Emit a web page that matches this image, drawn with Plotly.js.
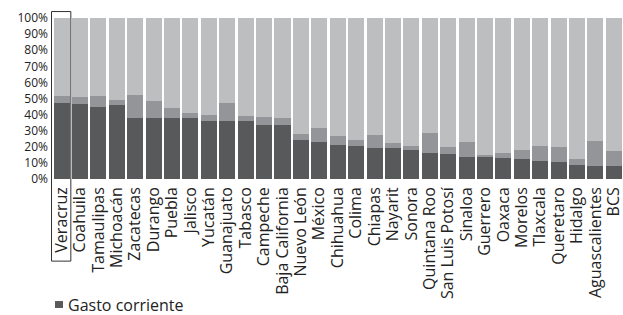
<!DOCTYPE html>
<html><head><meta charset="utf-8">
<script src="https://cdn.plot.ly/plotly-3.0.1.min.js"></script>
<style>html,body{margin:0;padding:0;background:#fff}#chart{width:623px;height:315px}</style>
</head><body><div id="chart"></div>
<script>
const states = ["Veracruz","Coahuila","Tamaulipas","Michoacán","Zacatecas","Durango","Puebla","Jalisco","Yucatán","Guanajuato","Tabasco","Campeche","Baja California","Nuevo León","México","Chihuahua","Colima","Chiapas","Nayarit","Sonora","Quintana Roo","San Luis Potosí","Sinaloa","Guerrero","Oaxaca","Morelos","Tlaxcala","Queretaro","Hidalgo","Aguascalientes","BCS"];
// share of "Gasto corriente" (dark segment), %
const gastoCorriente = [47.4,46.8,45.0,46.2,38.2,38.2,37.6,37.6,36.3,36.3,36.3,33.3,33.3,24.0,22.8,20.9,20.3,19.1,19.1,17.9,16.0,15.4,13.6,13.6,12.9,12.3,11.1,10.5,8.6,8.0,8.0];
// second segment (medium grey), %
const segmento2 = [4.3,4.1,6.7,3.1,14.2,10.5,6.8,3.7,3.7,11.1,3.1,5.5,4.9,3.7,8.6,5.6,3.7,8.0,3.1,2.4,12.3,4.3,9.2,1.2,3.1,5.6,9.2,9.2,3.7,15.4,9.2];
// remaining share (light grey), %
const segmento3 = gastoCorriente.map((v,i)=>+(100 - v - segmento2[i]).toFixed(1));
const legendLabel = "Gasto corriente";

const font = "Open Sans, sans-serif";
const traces = [
  {type:'bar', x:states, y:gastoCorriente, name:legendLabel, marker:{color:'#58595b'}},
  {type:'bar', x:states, y:segmento2, name:'Otro', marker:{color:'#939598'}},
  {type:'bar', x:states, y:segmento3, name:'Resto', marker:{color:'#bcbec0'}}
];
const layout = {
  width:623, height:315,
  margin:{l:51, r:0, t:18, b:136},
  barmode:'stack', bargap:0.13,
  paper_bgcolor:'#fff', plot_bgcolor:'#fff',
  font:{family:font, color:'#222'},
  xaxis:{type:'category', tickmode:'linear', tick0:0, dtick:1, tickangle:-90, tickfont:{size:16, family:font, color:'#222'}, ticklabelstandoff:4, showgrid:false, zeroline:false, showline:false, ticks:'', automargin:false},
  yaxis:{range:[0,100], dtick:10, ticksuffix:'%', tickfont:{size:12, family:font, color:'#222'}, ticklabelstandoff:2, showgrid:false, zeroline:false, showline:false, ticks:'', automargin:false},
  showlegend:false,
  shapes:[
    {type:'rect', xref:'x', yref:'paper', x0:-0.55, x1:0.5, y0:-0.51, y1:1.04, line:{color:'#333', width:1}, fillcolor:'rgba(0,0,0,0)'},
    {type:'rect', xref:'paper', yref:'paper', x0:0.007, x1:0.021, y0:-0.758, y1:-0.801, line:{width:0}, fillcolor:'#58595b'}
  ],
  annotations:[
    {xref:'paper', yref:'paper', x:0.026, y:-0.78, xanchor:'left', yanchor:'middle', showarrow:false, text:legendLabel, font:{size:16, family:font, color:'#222'}}
  ]
};
Plotly.newPlot('chart', traces, layout, {displayModeBar:false, staticPlot:true});
</script></body></html>
